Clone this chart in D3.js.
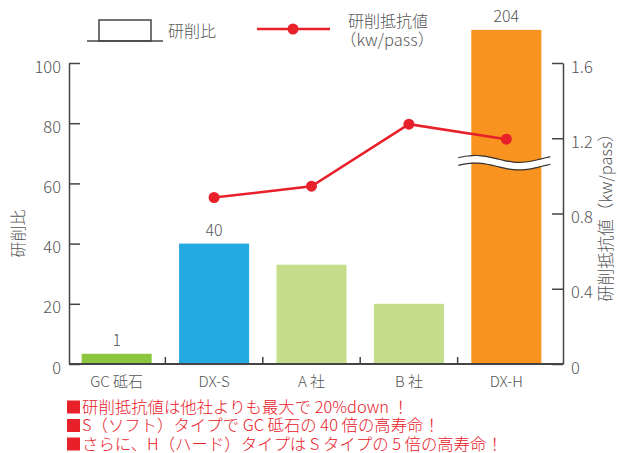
<!DOCTYPE html>
<html><head><meta charset="utf-8">
<script src="https://cdn.jsdelivr.net/npm/d3@7"></script>
<style>
body{margin:0;background:#fff;}
text{font-family:"Noto Sans CJK JP","Noto Sans",sans-serif;font-weight:300;}
</style></head>
<body><svg id="c" width="618" height="453"></svg>
<script>
const categories = ["GC 砥石", "DX-S", "A 社", "B 社", "DX-H"];
const ratioLabels = ["1", "40", "", "", "204"];
const ratioShown = [3.4, 40, 33, 20, 111];          // bar heights as drawn (axis broken for DX-H)
const barColors = ["#8cc63f", "#25a9e1", "#c5de8b", "#c5de8b", "#f7931e"];
const resistCats = ["DX-S", "A 社", "B 社", "DX-H"];
const resistance = [0.885, 0.945, 1.275, 1.195];
const leftTicks = [0, 20, 40, 60, 80, 100];
const rightTicks = [0, 0.4, 0.8, 1.2, 1.6];
const notes = ["研削抵抗値は他社よりも最大で 20%down ！",
               "S（ソフト）タイプで GC 砥石の 40 倍の高寿命！",
               "さらに、H（ハード）タイプは S タイプの 5 倍の高寿命！"];

const svg = d3.select("#c");
const axisCol = "#444", txtCol = "#555", red = "#e8202a";
const L = 69, R = 563, T = 63, B = 364;
const x = d3.scaleBand().domain(categories).range([68, 555]).paddingInner(0.281).paddingOuter(0.14);
const yL = d3.scaleLinear().domain([0, 100]).range([B, T]);
const yR = d3.scaleLinear().domain([0, 1.6]).range([B, T]);

// bars
svg.append("g").selectAll("rect").data(categories).join("rect")
  .attr("x", d => x(d)).attr("width", x.bandwidth())
  .attr("y", (d, i) => yL(ratioShown[i]))
  .attr("height", (d, i) => B - yL(ratioShown[i]))
  .attr("fill", (d, i) => barColors[i]);

// bar labels
svg.append("g").selectAll("text").data(categories).join("text")
  .attr("x", d => x(d) + x.bandwidth() / 2)
  .attr("y", (d, i) => yL(ratioShown[i]) - 8)
  .attr("text-anchor", "middle").attr("font-size", 16).attr("fill", txtCol)
  .text((d, i) => ratioLabels[i]);

// axis break on DX-H
{
  const bx0 = x("DX-H") - 13, bx1 = x("DX-H") + x.bandwidth() + 9;
  const yb = yR(1.07);
  const w = bx1 - bx0;
  const pts = d3.range(0, 1.0001, 0.05).map(t => [bx0 + t * w, yb - 3.5 * Math.sin(t * Math.PI * 2.1 + 0.35)]);
  const ln = d3.line().curve(d3.curveBasis);
  svg.append("path").attr("d", ln(pts)).attr("fill", "none").attr("stroke", "#fff").attr("stroke-width", 7);
  [-3.8, 3.8].forEach(o => {
    svg.append("path").attr("d", ln(pts.map(p => [p[0], p[1] + o]))).attr("fill", "none")
      .attr("stroke", "#333").attr("stroke-width", 1.2);
  });
}

// left axis
const gl = svg.append("g").attr("transform", `translate(${L},0)`)
  .call(d3.axisLeft(yL).tickValues(leftTicks).tickSize(-11).tickSizeOuter(0).tickPadding(8));
// right axis
const gr = svg.append("g").attr("transform", `translate(${R},0)`)
  .call(d3.axisRight(yR).tickValues(rightTicks).tickFormat(d => d === 0 ? "0" : d3.format(".1f")(d)).tickSize(-11).tickSizeOuter(0).tickPadding(8));
[gl, gr].forEach(g => {
  g.selectAll("path,line").attr("stroke", axisCol).attr("stroke-width", 1.5);
  g.selectAll("text").attr("font-size", 16.5).attr("fill", txtCol).attr("dy", "0.55em");
});

// bottom axis
svg.append("line").attr("x1", L).attr("x2", R).attr("y1", B).attr("y2", B).attr("stroke", axisCol).attr("stroke-width", 1.8);
svg.append("g").selectAll("line").data(categories.slice(1)).join("line")
  .attr("x1", d => x(d) - x.step() * x.paddingInner() / 2)
  .attr("x2", d => x(d) - x.step() * x.paddingInner() / 2)
  .attr("y1", B).attr("y2", B - 7).attr("stroke", axisCol).attr("stroke-width", 1.5);
svg.append("g").selectAll("text").data(categories).join("text")
  .attr("x", d => x(d) + x.bandwidth() / 2).attr("y", B + 23)
  .attr("text-anchor", "middle").attr("font-size", 15).attr("fill", txtCol).text(d => d);

// resistance line
const lineGen = d3.line().x(d => x(d[0]) + x.bandwidth() / 2).y(d => yR(d[1]));
const rp = resistCats.map((c, i) => [c, resistance[i]]);
svg.append("path").attr("d", lineGen(rp)).attr("fill", "none").attr("stroke", red).attr("stroke-width", 2.5);
svg.append("g").selectAll("circle").data(rp).join("circle")
  .attr("cx", d => x(d[0]) + x.bandwidth() / 2).attr("cy", d => yR(d[1])).attr("r", 5.5).attr("fill", red);

// axis titles
svg.append("text").attr("transform", `translate(24,${(T + B) / 2 + 20}) rotate(-90)`)
  .attr("text-anchor", "middle").attr("font-size", 16).attr("fill", txtCol).text("研削比");
svg.append("text").attr("transform", `translate(612,${(T + B) / 2}) rotate(-90)`)
  .attr("text-anchor", "middle").attr("font-size", 16.5).attr("fill", txtCol).text("研削抵抗値（kw/pass）");

// legend
const lg = svg.append("g");
lg.append("rect").attr("x", 99).attr("y", 20).attr("width", 52).attr("height", 21)
  .attr("fill", "#fff").attr("stroke", axisCol).attr("stroke-width", 1.5);
lg.append("line").attr("x1", 87).attr("x2", 163).attr("y1", 41).attr("y2", 41).attr("stroke", axisCol).attr("stroke-width", 1.5);
lg.append("text").attr("x", 168).attr("y", 37).attr("font-size", 16).attr("fill", txtCol).text("研削比");
lg.append("line").attr("x1", 257).attr("x2", 330).attr("y1", 29).attr("y2", 29).attr("stroke", red).attr("stroke-width", 2.5);
lg.append("circle").attr("cx", 293).attr("cy", 29).attr("r", 5.5).attr("fill", red);
lg.append("text").attr("x", 348).attr("y", 27).attr("font-size", 16).attr("fill", txtCol).text("研削抵抗値");
lg.append("text").attr("x", 340).attr("y", 46).attr("font-size", 16.5).attr("fill", txtCol).text("（kw/pass）");

// notes
const ng = svg.append("g");
notes.forEach((t, i) => {
  const yy = 407 + i * 18.5;
  ng.append("rect").attr("x", 67).attr("y", yy - 6.5).attr("width", 13).attr("height", 13).attr("fill", red);
  ng.append("text").attr("x", 82).attr("y", yy + 5.5).attr("font-size", 16.4).attr("fill", red).text(t);
});
</script></body></html>
